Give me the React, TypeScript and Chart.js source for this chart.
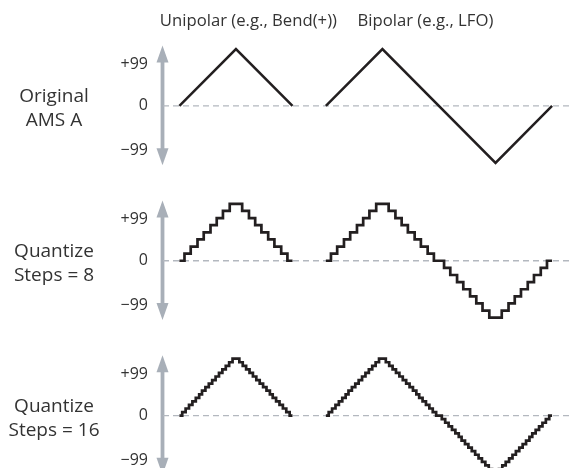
import React, { useEffect, useRef } from "react";
import { Chart, registerables } from "chart.js";

Chart.register(...registerables);

const FONT = "'Open Sans', sans-serif";
const TEXT_COLOR = "#333333";
const WAVE_COLOR = "#231f20";
const DASH_COLOR = "#b3b8bf";
const ARROW_COLOR = "#a8afb8";

// Text
const columnTitles = ["Unipolar (e.g., Bend(+))", "Bipolar (e.g., LFO)"];
const rowLabels = [
  ["Original", "AMS A"],
  ["Quantize", "Steps = 8"],
  ["Quantize", "Steps = 16"],
];
const tickValues = [-0.79, 0, 0.72];
const tickLabels = ["\u221299", "0", "+99"];

// x is measured in quarter periods; amplitude 1 = full modulation
const BIPOLAR_START = 2.59;
const X_MIN = -0.29;
const X_MAX = 6.96;

// [x, level]
const uniOriginal: [number, number][] = [[0, 0], [1, 1], [2, 0]];
const biOriginal: [number, number][] = [[0, 0], [1, 1], [3, -1], [4, 0]];

// Quantize steps = 8 (levels out of 8)
const uniQ8: [number, number][] = [
  [0, 0], [0.09, 1], [0.2, 2], [0.32, 3], [0.43, 4], [0.55, 5], [0.66, 6], [0.77, 7], [0.89, 8],
  [1.11, 7], [1.23, 6], [1.34, 5], [1.45, 4], [1.57, 3], [1.68, 2], [1.8, 1], [1.91, 0], [2, 0],
];
const biQ8: [number, number][] = [
  [0, 0], [0.09, 1], [0.2, 2], [0.32, 3], [0.43, 4], [0.55, 5], [0.66, 6], [0.77, 7], [0.89, 8],
  [1.11, 7], [1.23, 6], [1.34, 5], [1.45, 4], [1.57, 3], [1.68, 2], [1.8, 1], [1.91, 0],
  [2.09, -1], [2.2, -2], [2.32, -3], [2.43, -4], [2.55, -5], [2.66, -6], [2.77, -7], [2.89, -8],
  [3.11, -7], [3.23, -6], [3.34, -5], [3.45, -4], [3.57, -3], [3.68, -2], [3.8, -1], [3.91, 0], [4, 0],
];

// Quantize steps = 16 (levels out of 16)
const uniQ16: [number, number][] = [
  [0, 0], [0.05, 1], [0.11, 2], [0.17, 3], [0.23, 4], [0.29, 5], [0.35, 6], [0.4, 7], [0.46, 8],
  [0.52, 9], [0.58, 10], [0.64, 11], [0.7, 12], [0.76, 13], [0.82, 14], [0.88, 15], [0.94, 16],
  [1.06, 15], [1.12, 14], [1.18, 13], [1.24, 12], [1.3, 11], [1.36, 10], [1.42, 9], [1.48, 8],
  [1.54, 7], [1.6, 6], [1.65, 5], [1.71, 4], [1.77, 3], [1.83, 2], [1.89, 1], [1.95, 0], [2, 0],
];
const biQ16: [number, number][] = [
  [0, 0], [0.05, 1], [0.11, 2], [0.17, 3], [0.23, 4], [0.29, 5], [0.35, 6], [0.4, 7], [0.46, 8],
  [0.52, 9], [0.58, 10], [0.64, 11], [0.7, 12], [0.76, 13], [0.82, 14], [0.88, 15], [0.94, 16],
  [1.06, 15], [1.12, 14], [1.18, 13], [1.24, 12], [1.3, 11], [1.36, 10], [1.42, 9], [1.48, 8],
  [1.54, 7], [1.6, 6], [1.65, 5], [1.71, 4], [1.77, 3], [1.83, 2], [1.89, 1], [1.95, 0],
  [2.05, -1], [2.11, -2], [2.17, -3], [2.23, -4], [2.29, -5], [2.35, -6], [2.4, -7], [2.46, -8],
  [2.52, -9], [2.58, -10], [2.64, -11], [2.7, -12], [2.76, -13], [2.82, -14], [2.88, -15], [2.94, -16],
  [3.06, -15], [3.12, -14], [3.18, -13], [3.24, -12], [3.3, -11], [3.36, -10], [3.42, -9], [3.48, -8],
  [3.54, -7], [3.6, -6], [3.65, -5], [3.71, -4], [3.77, -3], [3.83, -2], [3.89, -1], [3.95, 0], [4, 0],
];

const zeroLine: [number, number][] = [[X_MIN, 0], [X_MAX, 0]];

// row ranges [min, max]
const rowRanges: [number, number][] = [[-1.36, 1.36], [-1.36, 1.36], [-0.92, 1.36]];
const rowIds = ["y1", "y2", "y3"];
const ARROW_TOP = 1.06;
const ARROW_BOTTOM = -1.04;

const toPoints = (pairs: [number, number][], xOffset: number, divisor: number) =>
  pairs.map(([x, v]) => ({ x: x + xOffset, y: v / divisor }));

function wave(pairs: [number, number][], xOffset: number, divisor: number, axis: string, stepped: boolean) {
  return {
    data: toPoints(pairs, xOffset, divisor),
    yAxisID: axis,
    borderColor: WAVE_COLOR,
    borderWidth: stepped ? 2.7 : 2.5,
    borderJoinStyle: "miter" as const,
    pointRadius: 0,
    stepped: stepped ? ("before" as const) : false,
    tension: 0,
    fill: false,
  };
}

function dashed(axis: string) {
  return {
    data: toPoints(zeroLine, 0, 1),
    yAxisID: axis,
    borderColor: DASH_COLOR,
    borderWidth: 1.3,
    borderDash: [6, 4],
    pointRadius: 0,
    fill: false,
  };
}

function rowScale(idx: number) {
  const [min, max] = rowRanges[idx];
  return {
    type: "linear" as const,
    position: "left" as const,
    stack: "rows",
    stackWeight: max - min,
    weight: 3 - idx,
    min,
    max,
    grid: { display: false, drawTicks: false, tickLength: 0 },
    border: { display: false },
    afterBuildTicks: (s: any) => {
      s.ticks = tickValues.map((v) => ({ value: v }));
    },
    ticks: {
      autoSkip: false,
      padding: 15,
      color: TEXT_COLOR,
      font: { family: FONT, size: 16 },
      callback: (v: any) => {
        const i = tickValues.indexOf(Number(v));
        return i >= 0 ? tickLabels[i] : "";
      },
    },
    afterFit: (s: any) => {
      s.width = 163;
      s.paddingTop = 0;
      s.paddingBottom = 0;
    },
  };
}

const decorPlugin = {
  id: "decor",
  beforeDatasetsDraw(chart: any) {
    const ctx = chart.ctx as CanvasRenderingContext2D;
    const x = chart.chartArea.left - 0.5;
    const headW = 12;
    const headH = 17;
    rowIds.forEach((id) => {
      const s = chart.scales[id];
      const top = s.getPixelForValue(ARROW_TOP);
      const bot = s.getPixelForValue(ARROW_BOTTOM);
      ctx.save();
      ctx.strokeStyle = ARROW_COLOR;
      ctx.fillStyle = ARROW_COLOR;
      ctx.lineWidth = 3.8;
      ctx.beginPath();
      ctx.moveTo(x, top + headH - 2);
      ctx.lineTo(x, bot - headH + 2);
      ctx.stroke();
      ctx.beginPath();
      ctx.moveTo(x, top);
      ctx.lineTo(x + headW / 2, top + headH);
      ctx.lineTo(x - headW / 2, top + headH);
      ctx.closePath();
      ctx.fill();
      ctx.beginPath();
      ctx.moveTo(x, bot);
      ctx.lineTo(x + headW / 2, bot - headH);
      ctx.lineTo(x - headW / 2, bot - headH);
      ctx.closePath();
      ctx.fill();
      ctx.restore();
    });
  },
  afterDraw(chart: any) {
    const ctx = chart.ctx as CanvasRenderingContext2D;
    const xs = chart.scales.x;
    ctx.save();
    ctx.fillStyle = TEXT_COLOR;
    ctx.textAlign = "center";
    ctx.textBaseline = "alphabetic";
    ctx.font = `19px ${FONT}`;
    rowIds.forEach((id, i) => {
      const y0 = chart.scales[id].getPixelForValue(0);
      ctx.fillText(rowLabels[i][0], 54, y0 - 4);
      ctx.fillText(rowLabels[i][1], 54, y0 + 20);
    });
    ctx.font = `16.7px ${FONT}`;
    const titleX = [1.22, 4.35];
    columnTitles.forEach((t, i) => {
      ctx.fillText(t, xs.getPixelForValue(titleX[i]), 26);
    });
    ctx.restore();
  },
};

export default function App() {
  const ref = useRef<HTMLCanvasElement>(null);
  useEffect(() => {
    document.body.style.margin = "0";
    const datasets = [
      wave(uniOriginal, 0, 1, "y1", false),
      wave(biOriginal, BIPOLAR_START, 1, "y1", false),
      wave(uniQ8, 0, 8, "y2", true),
      wave(biQ8, BIPOLAR_START, 8, "y2", true),
      wave(uniQ16, 0, 16, "y3", true),
      wave(biQ16, BIPOLAR_START, 16, "y3", true),
      dashed("y1"),
      dashed("y2"),
      dashed("y3"),
    ];
    const chart = new Chart(ref.current as HTMLCanvasElement, {
      type: "line",
      data: { datasets: datasets as any },
      options: {
        responsive: false,
        animation: false,
        devicePixelRatio: 1,
        events: [],
        layout: { padding: { top: 28.5, left: 0, right: 0, bottom: 0 } },
        plugins: { legend: { display: false }, tooltip: { enabled: false }, title: { display: false } },
        scales: {
          x: { type: "linear", min: X_MIN, max: X_MAX, display: false },
          y1: rowScale(0),
          y2: rowScale(1),
          y3: rowScale(2),
        } as any,
      },
      plugins: [decorPlugin],
    });
    return () => chart.destroy();
  }, []);
  return (
    <div style={{ width: 573, height: 468 }}>
      <canvas ref={ref} width={573} height={468} style={{ display: "block" }} />
    </div>
  );
}
